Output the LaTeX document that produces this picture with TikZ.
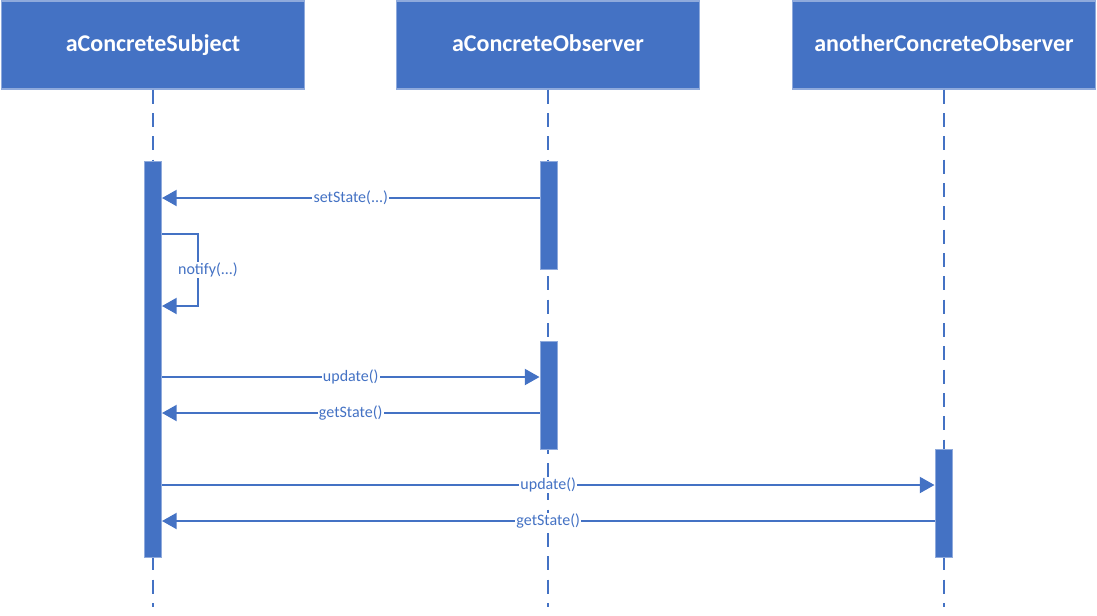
\documentclass[tikz,border=0pt]{standalone}
\usepackage{fontspec}
\setmainfont{Carlito}
\usetikzlibrary{arrows.meta}
\definecolor{uml}{HTML}{4472C4}
\definecolor{umlborder}{HTML}{8FAADC}
\begin{document}
\begin{tikzpicture}[x=0.75pt,y=-0.75pt,
  obj/.style={draw=umlborder, line width=1pt, fill=uml, text=white,
    font=\fontsize{18}{21}\selectfont\bfseries,
    text height=12.5pt, text depth=3.5pt,
    minimum width=227pt, minimum height=66pt, inner sep=0pt},
  act/.style={draw=umlborder, line width=0.5pt, fill=uml, minimum width=13pt, inner sep=0pt},
  life/.style={draw=uml, line width=1.2pt, dash pattern=on 10.5pt off 7pt},
  msg/.style={draw=uml, line width=1.5pt, -{Triangle[length=11pt,width=12pt]}},
  lbl/.style={fill=white, text=uml, inner sep=0.8pt, font=\fontsize{12}{14}\selectfont}]
\useasboundingbox (0,0) rectangle (1097,615);
% lifeline heads
\node[obj] (o1) at (153,45) {aConcreteSubject};
\node[obj] (o2) at (548,45) {aConcreteObserver};
\node[obj] (o3) at (944,45) {anotherConcreteObserver};
% lifeline ends
\coordinate (e1) at (153,607);
\coordinate (e2) at (548,607);
\coordinate (e3) at (944,607);
\draw[life] (o1.south) -- (e1);
\draw[life] (o2.south) -- (e2);
\draw[life] (o3.south) -- (e3);
% activation bars
\node[act, minimum height=297pt] (b1) at (153,359) {};
\node[act, minimum height=81pt] (b2) at (548.5,215) {};
\node[act, minimum height=81pt] (b3) at (548.5,395) {};
\node[act, minimum height=81pt] (b4) at (943.5,503) {};
% messages
\draw[msg] (b2.west |- 0,198) -- node[lbl] {setState(...)} (b1.east |- 0,198);
\coordinate (n1) at (198,234);
\coordinate (n2) at (198,306);
\draw[msg] (b1.east |- n1) -- (n1) -- (n2) -- (b1.east |- n2);
\node[lbl] (nl) at (208,270) {notify(...)};
\draw[msg] (b1.east |- 0,377) -- node[lbl] {update()} (b3.west |- 0,377);
\draw[msg] (b3.west |- 0,413) -- node[lbl] {getState()} (b1.east |- 0,413);
\draw[msg] (b1.east |- 0,485) -- node[lbl, pos=0.5] {update()} (b4.west |- 0,485);
\draw[msg] (b4.west |- 0,521) -- node[lbl, pos=0.5] {getState()} (b1.east |- 0,521);
\end{tikzpicture}
\end{document}
